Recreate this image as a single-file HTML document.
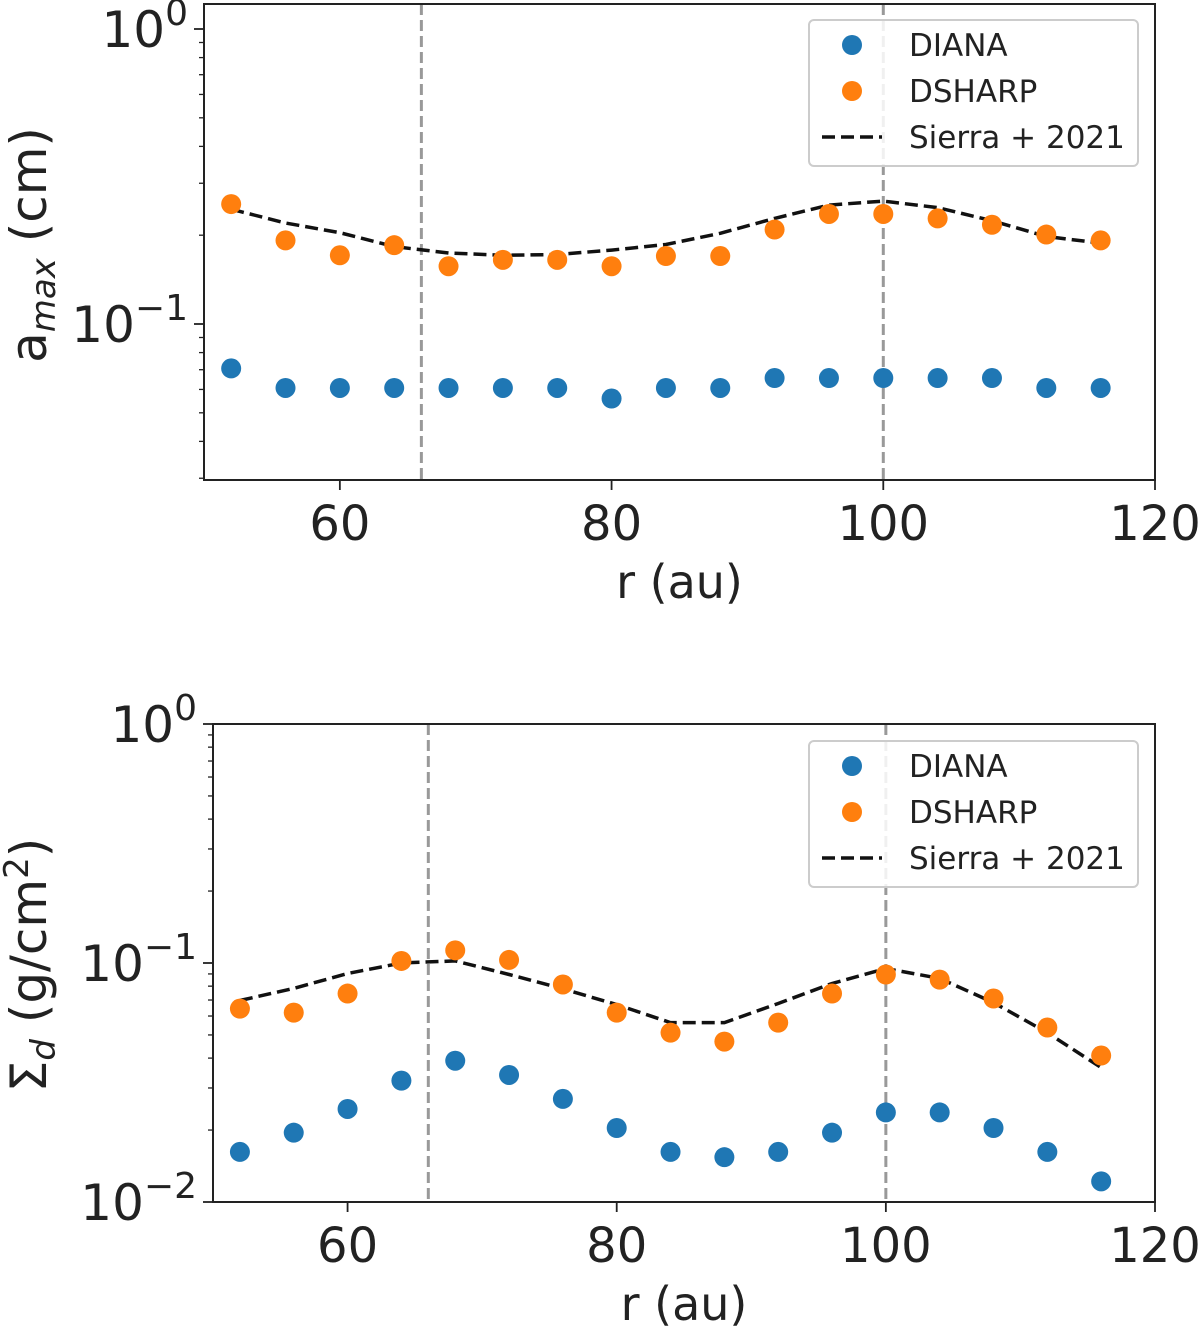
<!DOCTYPE html>
<html><head><meta charset="utf-8"><style>
html,body{margin:0;padding:0;background:#fff;}
svg{display:block;font-family:"DejaVu Sans","Liberation Sans",sans-serif;}
</style></head><body>
<svg id="chart" width="1200" height="1328" viewBox="0 0 1200 1328"></svg>
<script>
const radii=[52,56,60,64,68,72,76,80,84,88,92,96,100,104,108,112,116];
const topDiana=[0.0707,0.0607,0.0607,0.0607,0.0607,0.0607,0.0607,0.0559,0.0607,0.0607,0.0656,0.0656,0.0656,0.0656,0.0656,0.0607,0.0607];
const topDsharp=[0.255,0.192,0.171,0.185,0.157,0.165,0.165,0.157,0.170,0.170,0.209,0.236,0.236,0.228,0.217,0.201,0.192];
const topSierra=[0.245,0.220,0.204,0.183,0.174,0.171,0.172,0.178,0.186,0.203,0.228,0.253,0.261,0.248,0.224,0.198,0.188];
const botDiana=[0.0162,0.0195,0.0245,0.0322,0.039,0.034,0.027,0.0204,0.0162,0.0154,0.0162,0.0195,0.0237,0.0237,0.0204,0.0162,0.0122];
const botDsharp=[0.0644,0.0620,0.0745,0.102,0.113,0.103,0.0813,0.062,0.0511,0.0469,0.0563,0.0745,0.0895,0.0852,0.071,0.0537,0.041];
const botSierra=[0.0697,0.0783,0.0904,0.1,0.102,0.0895,0.078,0.067,0.0563,0.0563,0.0677,0.0821,0.0948,0.0862,0.0683,0.0511,0.0365];
const gapRadii=[66,100];
const xTicks=[60,80,100,120];
const legendLabels=["DIANA","DSHARP","Sierra + 2021"];

const NS="http://www.w3.org/2000/svg";
const svg=document.getElementById('chart');
function el(tag,attrs,parent,text){const e=document.createElementNS(NS,tag);for(const k in attrs)e.setAttribute(k,attrs[k]);if(text!==undefined)e.textContent=text;(parent||svg).appendChild(e);return e;}

function panel(p,dian,dsh,sie){
  const g=el('g',{});
  
  
  const X=v=>p.x0+(v-50)/70*(p.x1-p.x0);
  const Y=v=>p.yd0-(Math.log10(v)-p.d0)*p.dec;
  for(let d=-p.nd;d<=0;d++){
    for(let m=1;m<10;m++){
      const v=m*Math.pow(10,d);const y=Y(v);
      if(y<p.y0-0.5||y>p.y1+0.5)continue;
      const t=el('line',{x1:p.x0,x2:p.x0-(m===1?10:5),y1:y,y2:y,stroke:'#222','stroke-width':m===1?1.8:1.3},g);
      
      
      if(m===1){
        const tx=el('text',{x:p.x0-16,y:y+18,'text-anchor':'end','font-size':50,fill:'#222'},g);
        
        
        tx.appendChild(document.createTextNode('10'));
        el('tspan',{dy:-22,'font-size':36},tx,d===0?'0':'\u2212'+(-d));
      }
    }
  }
  xTicks.forEach(v=>{
    const x=X(v);
    const t=el('line',{x1:x,x2:x,y1:p.y1,y2:p.y1+10,stroke:'#222','stroke-width':1.8},g);
    
    
    const tx=el('text',{x:x,y:p.y1+60,'text-anchor':'middle','font-size':48,fill:'#222'},g,String(v));
    
    
  });
  gapRadii.forEach(v=>{
    const l=el('line',{x1:X(v),x2:X(v),y1:p.y0,y2:p.y1,stroke:'#999','stroke-width':3,'stroke-dasharray':'11,5'},g);
    
    
  });
  const pts=radii.map((r,i)=>X(r).toFixed(1)+','+Y(sie[i]).toFixed(1)).join(' ');
  const pl=el('polyline',{points:pts,fill:'none',stroke:'#111','stroke-width':3.5,'stroke-dasharray':'13,6'},g);
  
  
  radii.forEach((r,i)=>{
    const c=el('circle',{cx:X(r),cy:Y(dian[i]),r:10,fill:'#1f77b4'},g);
    
    
    const c2=el('circle',{cx:X(r),cy:Y(dsh[i]),r:10,fill:'#ff7f0e'},g);
    
    
  });
  const box=el('rect',{x:p.x0,y:p.y0,width:p.x1-p.x0,height:p.y1-p.y0,fill:'none',stroke:'#222','stroke-width':2},g);
  
  
  const lg=el('g',{},g);
  
  
  el('rect',{x:809,y:p.ly,width:329,height:146,rx:5,fill:'#fff','fill-opacity':0.85,stroke:'#ccc','stroke-width':2},lg);
  const ys=[p.ly+25,p.ly+71,p.ly+117];
  legendLabels.forEach((lab,i)=>{
    if(i<2){el('circle',{cx:852,cy:ys[i],r:10,fill:i?'#ff7f0e':'#1f77b4'},lg);}
    else{el('line',{x1:822,x2:882,y1:ys[i],y2:ys[i],stroke:'#111','stroke-width':3.5,'stroke-dasharray':'13,6'},lg);}
    const t=el('text',{x:909,y:ys[i]+11,'font-size':31,fill:'#222'},lg,lab);
    
    
  });
  const xl=el('text',{x:(p.x0+p.x1)/2,y:p.y1+118,'text-anchor':'middle','font-size':46,fill:'#222'},g,'r (au)');
  
  
  const yl=el('text',{x:0,y:0,'text-anchor':'middle','font-size':50,fill:'#222',transform:`translate(46,${p.ylab}) rotate(-90)`},g);
  
  
  p.ytitle(yl);
}
panel({name:'amax-panel',x0:204,x1:1155,y0:4,y1:480,d0:0,yd0:29,dec:295,nd:2,ly:20,ylab:245,
  ytitle:t=>{t.appendChild(document.createTextNode('a'));el('tspan',{'font-style':'italic','font-size':34,dy:9},t,'max');el('tspan',{dy:-9},t,' (cm)');}},
  topDiana,topDsharp,topSierra);
panel({name:'sigma-panel',x0:213,x1:1155,y0:724,y1:1202,d0:0,yd0:724,dec:239,nd:2,ly:741,ylab:965,
  ytitle:t=>{t.appendChild(document.createTextNode('\u03A3'));el('tspan',{'font-style':'italic','font-size':34,dy:9},t,'d');el('tspan',{dy:-9},t,' (g/cm');el('tspan',{dy:-18,'font-size':34},t,'2');el('tspan',{dy:18},t,')');}},
  botDiana,botDsharp,botSierra);
</script>
</body></html>
